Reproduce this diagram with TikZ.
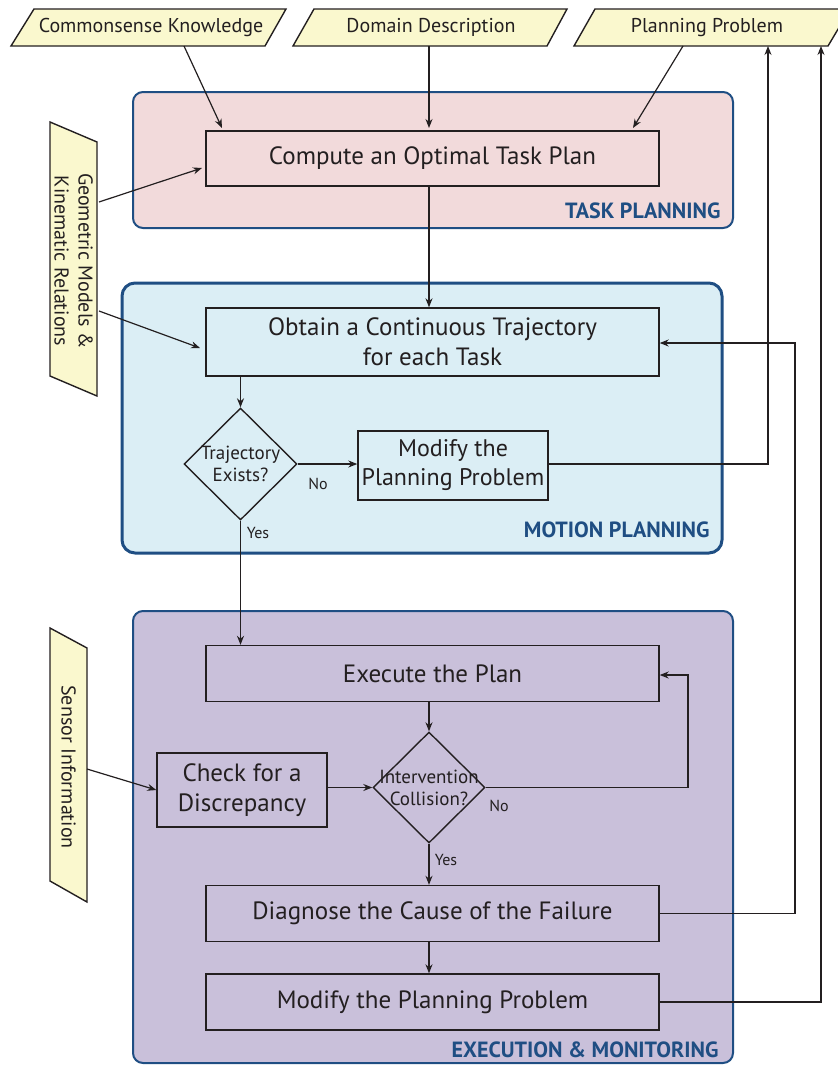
\documentclass[tikz,border=0pt]{standalone}
\usepackage{fontspec}
\setmainfont{PT Sans}
\usetikzlibrary{arrows.meta,shapes.geometric}
\definecolor{ink}{HTML}{231F20}
\definecolor{regblue}{HTML}{1F4E83}
\definecolor{pinkfill}{HTML}{F2DADB}
\definecolor{bluefill}{HTML}{DBEEF5}
\definecolor{purplefill}{HTML}{C9C0DA}
\definecolor{yellowfill}{HTML}{FAF8CE}
\tikzset{
  region/.style={draw=regblue,rounded corners=10pt},
  procbox/.style={draw=ink,line width=1.4pt,inner sep=0pt,align=center,text=ink,font=\fontsize{25}{30}\selectfont},
  decbox/.style={draw=ink,line width=1.4pt,shape=diamond,inner sep=0pt},
  dectext/.style={align=center,text=ink,inner sep=0pt,font=\fontsize{19}{22}\selectfont},
  iobox/.style={draw=ink,line width=1.4pt,fill=yellowfill},
  iotext/.style={text=ink,font=\fontsize{20}{24}\selectfont,align=center},
  conn/.style={draw=ink,line width=1.2pt,-{Stealth[length=9pt,width=7pt]}},
  lbl/.style={text=ink,font=\fontsize{16}{19}\selectfont},
  regtitle/.style={text=regblue,font=\bfseries\fontsize{22}{26}\selectfont,anchor=east},
}
\begin{document}
\begin{tikzpicture}[x=1pt,y=-1pt]
\useasboundingbox (0,0) rectangle (838,1066);
% regions
\draw[region,fill=pinkfill,line width=2pt] (133,92) rectangle (733,228);
\draw[region,fill=bluefill,line width=3pt,rounded corners=13pt] (122,283) rectangle (722,553);
\draw[region,fill=purplefill,line width=2pt] (133,611) rectangle (733,1063);
\node[regtitle] (tpl) at (724,211) {TASK PLANNING};
\node[regtitle] (mpl) at (713,530) {MOTION PLANNING};
\node[regtitle] (eml) at (722,1050) {EXECUTION \& MONITORING};
% inputs (parallelograms)
\draw[iobox] (11,46) -- (34,9) -- (286,9) -- (265,46) -- cycle;
\node[iotext] (ck) at (151,27.5) {Commonsense Knowledge};
\draw[iobox] (293,46) -- (314,9) -- (567,9) -- (547,46) -- cycle;
\node[iotext] (dd) at (431,27.5) {Domain Description};
\draw[iobox] (574,46) -- (595,9) -- (850,9) -- (828,46) -- cycle;
\node[iotext] (pp) at (707,27.5) {Planning Problem};
\draw[iobox] (50,122) -- (97,142) -- (97,396) -- (50,376) -- cycle;
\node[iotext,rotate=-90] (gm) at (73.5,261) {Geometric Models \&\\Kinematic Relations};
\draw[iobox] (50,628) -- (87,648) -- (87,902) -- (50,881) -- cycle;
\node[iotext,rotate=-90] (si) at (68.5,767) {Sensor Information};
% process nodes
\node[procbox,minimum width=453pt,minimum height=55pt] (compute) at (432.5,158.5) {Compute an Optimal Task Plan};
\node[procbox,minimum width=453pt,minimum height=68pt] (obtain) at (432.5,342) {Obtain a Continuous Trajectory\\for each Task};
\node[decbox,minimum width=113pt,minimum height=112pt] (traj) at (240.5,464) {};
\node[dectext] (trajt) at (240.5,464) {Trajectory\\Exists?};
\node[procbox,minimum width=190pt,minimum height=69pt,font=\fontsize{24}{29}\selectfont] (modA) at (453,465.5) {Modify the\\Planning Problem};
\node[procbox,minimum width=453pt,minimum height=56pt] (exec) at (432.5,673.5) {Execute the Plan};
\node[procbox,minimum width=170pt,minimum height=74pt] (check) at (242,790) {Check for a\\Discrepancy};
\node[decbox,minimum width=112pt,minimum height=111pt] (coll) at (429,787.5) {};
\node[dectext] (collt) at (429,787.5) {Intervention\\Collision?};
\node[procbox,minimum width=453pt,minimum height=56pt] (diag) at (432.5,913.5) {Diagnose the Cause of the Failure};
\node[procbox,minimum width=453pt,minimum height=56pt] (modB) at (432.5,1002) {Modify the Planning Problem};
% connector end points
\coordinate (ckout) at (184,46);
\coordinate (ddout) at (429,46);
\coordinate (ppout) at (683,46);
\coordinate (gmout1) at (99,202);
\coordinate (gmout2) at (99,311);
\coordinate (siout) at (87,769);
\coordinate (ppin1) at (768,46);
\coordinate (ppin2) at (821,46);
% connectors
\draw[conn] (ckout) -- (222,128);
\draw[conn] (ddout) -- (429,128);
\draw[conn] (ppout) -- (633,128);
\draw[conn] (gmout1) -- (202,168);
\draw[conn] (gmout2) -- (200,348);
\draw[conn] (compute.south -| ddout) -- (obtain.north -| ddout);
\draw[conn] (traj.north |- obtain.south) -- (traj.north);
\draw[conn] (traj.east) -- (traj.east -| modA.west);
\node[lbl] (no1) at (318,484) {No};
\draw[conn] (traj.south) -- (traj.south |- exec.north);
\node[lbl] (yes1) at (258,533) {Yes};
\draw[conn] (modA.east |- traj.east) -- (768,464) -- (ppin1);
\draw[conn] (siout) -- (check.west);
\draw[conn] (coll.west -| check.east) -- (coll.west);
\draw[conn] (exec.south -| coll.north) -- (coll.north);
\draw[conn] (coll.east) -- (688,787.5) -- (688,675) -- (exec.east |- 0,675);
\node[lbl] (no2) at (499,806) {No};
\draw[conn] (coll.south) -- (coll.south |- diag.north);
\node[lbl] (yes2) at (446,860) {Yes};
\draw[conn] (diag.south -| coll.south) -- (modB.north -| coll.south);
\draw[conn] (diag.east) -- (795,913.5) -- (795,343) -- (obtain.east |- 0,343);
\draw[conn] (modB.east) -- (821,1002) -- (ppin2);
\end{tikzpicture}
\end{document}
